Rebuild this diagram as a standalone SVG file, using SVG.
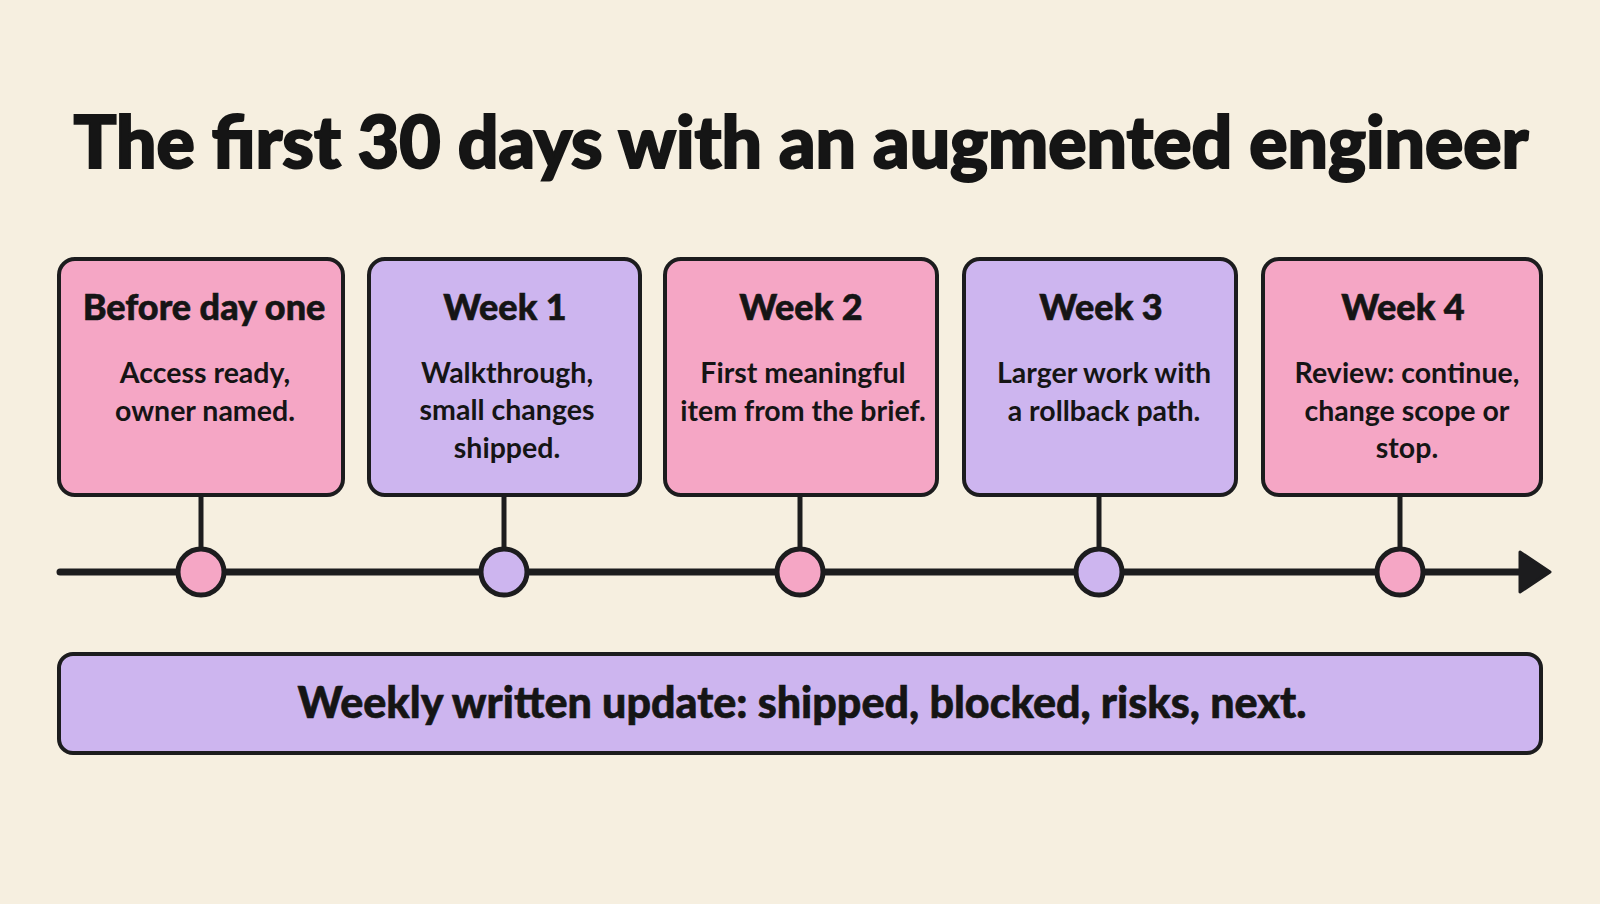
<svg xmlns="http://www.w3.org/2000/svg" width="1600" height="904" viewBox="0 0 1600 904">
<style>
.bg{fill:#f6efe0}
.box{stroke:#1c1c1e;stroke-width:4}
.pink{fill:#f5a6c5}
.purple{fill:#cdb5ef}
.title{font-family:Lato,"Open Sans",sans-serif;font-weight:900;font-size:72px;fill:#151515;stroke:#151515;stroke-width:2;text-anchor:middle}
.head{font-family:Lato,"Open Sans",sans-serif;font-weight:900;font-size:36px;fill:#151515;stroke:#151515;stroke-width:0.6;text-anchor:middle}
.body{font-family:Lato,"Open Sans",sans-serif;font-weight:700;font-size:28.5px;fill:#151515;text-anchor:middle}
.bar{font-family:Lato,"Open Sans",sans-serif;font-weight:900;font-size:43px;fill:#151515;stroke:#151515;stroke-width:0.6;text-anchor:middle}
.line{stroke:#1c1c1e;stroke-width:7;fill:none;stroke-linecap:round}
.stem{stroke:#1c1c1e;stroke-width:5;fill:none}
.dot{stroke:#1c1c1e;stroke-width:5}
</style>
<rect class="bg" x="0" y="0" width="1600" height="904"/>
<text class="title" x="801" y="168" textLength="1455" lengthAdjust="spacingAndGlyphs">The first 30 days with an augmented engineer</text>

<g id="connectors">
<line class="line" x1="60" y1="572" x2="1525" y2="572"/>
<polygon points="1520,552 1550,572 1520,592" fill="#1c1c1e" stroke="#1c1c1e" stroke-width="3" stroke-linejoin="round"/>
<line class="stem" x1="201" y1="495" x2="201" y2="549"/>
<line class="stem" x1="504" y1="495" x2="504" y2="549"/>
<line class="stem" x1="800" y1="495" x2="800" y2="549"/>
<line class="stem" x1="1099" y1="495" x2="1099" y2="549"/>
<line class="stem" x1="1400" y1="495" x2="1400" y2="549"/>
</g>

<g id="node-before">
<rect class="box pink" x="59" y="259" width="284" height="236" rx="16"/>
<text class="head" x="204" y="320">Before day one</text>
<text class="body" x="205" y="383">Access ready,</text>
<text class="body" x="205" y="421">owner named.</text>
<circle class="dot pink" cx="201" cy="572" r="23"/>
</g>

<g id="node-week1">
<rect class="box purple" x="369" y="259" width="271" height="236" rx="16"/>
<text class="head" x="505" y="320">Week 1</text>
<text class="body" x="507" y="383">Walkthrough,</text>
<text class="body" x="507" y="420">small changes</text>
<text class="body" x="507" y="458">shipped.</text>
<circle class="dot purple" cx="504" cy="572" r="23"/>
</g>

<g id="node-week2">
<rect class="box pink" x="665" y="259" width="272" height="236" rx="16"/>
<text class="head" x="801" y="320">Week 2</text>
<text class="body" x="803" y="383">First meaningful</text>
<text class="body" x="803" y="421">item from the brief.</text>
<circle class="dot pink" cx="800" cy="572" r="23"/>
</g>

<g id="node-week3">
<rect class="box purple" x="964" y="259" width="272" height="236" rx="16"/>
<text class="head" x="1101" y="320">Week 3</text>
<text class="body" x="1104" y="383">Larger work with</text>
<text class="body" x="1104" y="421">a rollback path.</text>
<circle class="dot purple" cx="1099" cy="572" r="23"/>
</g>

<g id="node-week4">
<rect class="box pink" x="1263" y="259" width="278" height="236" rx="16"/>
<text class="head" x="1403" y="320">Week 4</text>
<text class="body" x="1407" y="383">Review: continue,</text>
<text class="body" x="1407" y="421">change scope or</text>
<text class="body" x="1407" y="458">stop.</text>
<circle class="dot pink" cx="1400" cy="572" r="23"/>
</g>

<g id="node-weekly">
<rect class="box purple" x="59" y="654" width="1482" height="99" rx="14"/>
<text class="bar" x="802" y="718">Weekly written update: shipped, blocked, risks, next.</text>
</g>
</svg>
